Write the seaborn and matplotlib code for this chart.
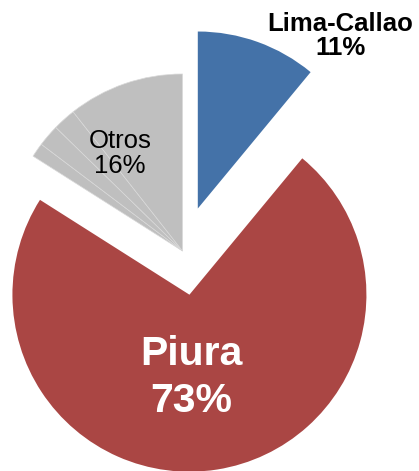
import matplotlib
matplotlib.use("Agg")
import matplotlib.pyplot as plt
import seaborn as sns

# Data
regions = ["Lima-Callao", "Piura", "Otros"]
shares = [11, 73, 16]
# "Otros" is drawn as several small grey sub-slices
otros_parts = [1.3, 2.0, 2.1, 10.6]

colors = {"Lima-Callao": "#4472a8", "Piura": "#aa4644", "Otros": "#bfbfbf"}


def main():
    sns.set_theme(style="white")
    plt.rcParams["font.family"] = ["Liberation Sans", "DejaVu Sans"]

    fig = plt.figure(figsize=(4.19, 4.71), dpi=100)
    ax = fig.add_axes([0, 0, 1, 1])

    values = shares[:2] + otros_parts
    slice_colors = [colors["Lima-Callao"], colors["Piura"]] + [colors["Otros"]] * len(otros_parts)
    explode = [0.255, 0.25] + [0] * len(otros_parts)

    wedges, _ = ax.pie(values, colors=slice_colors, explode=explode, startangle=90,
                       counterclock=False, radius=1,
                       wedgeprops=dict(edgecolor="#d9d9d9", linewidth=0.5))
    # no outline on the two big slices
    for w in wedges[:2]:
        w.set_linewidth(0)

    ax.set_aspect("equal")
    ax.set_xlim(-1.031, 1.336)
    ax.set_ylim(-1.243, 1.418)
    ax.axis("off")

    ax.text(0.893, 1.215, f"{regions[0]}\n{shares[0]}%", ha="center", va="center",
            fontsize=18.5, fontweight="bold", color="black", linespacing=1.0)
    ax.text(-0.353, 0.55, f"{regions[2]}\n{shares[2]}%", ha="center", va="center",
            fontsize=18.5, color="black", linespacing=1.05)
    ax.text(0.05, -0.715, f"{regions[1]}\n{shares[1]}%", ha="center", va="center",
            fontsize=29.5, fontweight="bold", color="white", linespacing=1.3)

    fig.savefig("out.png", dpi=100)


if __name__ == "__main__":
    main()
